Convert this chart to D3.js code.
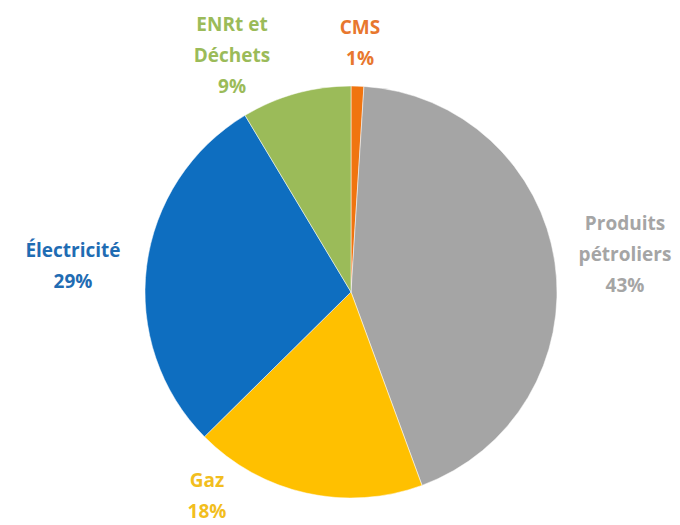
<!DOCTYPE html>
<html>
<head>
<meta charset="utf-8">
<script src="https://cdn.jsdelivr.net/npm/d3@7"></script>
<style>
  body { margin: 0; background: #fff; }
  svg text { font-family: "Open Sans", "Liberation Sans", sans-serif; font-weight: 700; }
</style>
</head>
<body>
<svg width="680" height="525"></svg>
<script>
// data, clockwise from 12 o'clock
var categories = ["CMS", "Produits pétroliers", "Gaz", "Électricité", "ENRt et Déchets"];
var shares = [1.0, 43.4, 18.2, 28.8, 8.6];
var shareLabels = ["1%", "43%", "18%", "29%", "9%"];
var labelLines = [["CMS"], ["Produits", "pétroliers"], ["Gaz"], ["Électricité"], ["ENRt et", "Déchets"]];

var sliceColors = ["#F07410", "#A5A5A5", "#FFC000", "#0E6EC0", "#9BBB59"];
var textColors = ["#E8772E", "#A5A5A5", "#F2BE1E", "#1F6CB3", "#9BBB59"];

var svg = d3.select("svg");
var cx = 351, cy = 292, radius = 206;
var g = svg.append("g").attr("transform", "translate(" + cx + "," + cy + ")");

var pie = d3.pie().sort(null).value(function (d) { return d; });
var arc = d3.arc().innerRadius(0).outerRadius(radius);
var arcs = pie(shares);

g.selectAll(".slice")
    .data(arcs)
    .enter().append("path")
    .attr("class", "slice")
    .attr("d", arc)
    .style("fill", function (d, i) { return sliceColors[i]; })
    .style("stroke", "#fff")
    .style("stroke-width", 0.5);

// label placement (Excel best-fit style), offsets from the pie centre
var labelAt = [[9, -249], [274, -38], [-144, 204], [-278, -26], [-119, -237]];
var lineH = 31;

var labels = g.selectAll(".lbl")
    .data(arcs)
    .enter().append("text")
    .attr("class", "lbl")
    .attr("text-anchor", "middle")
    .style("font-size", "19px")
    .style("fill", function (d, i) { return textColors[i]; })
    .attr("transform", function (d, i) {
        var n = labelLines[i].length + 1;
        var top = labelAt[i][1] - (n - 1) * lineH / 2;
        return "translate(" + labelAt[i][0] + "," + top + ")";
    });

labels.each(function (d, i) {
    var t = d3.select(this);
    var lines = labelLines[i].concat([shareLabels[i]]);
    lines.forEach(function (s, k) {
        t.append("tspan")
            .attr("x", 0)
            .attr("y", k * lineH)
            .attr("dy", "0.35em")
            .text(s);
    });
});
</script>
</body>
</html>
